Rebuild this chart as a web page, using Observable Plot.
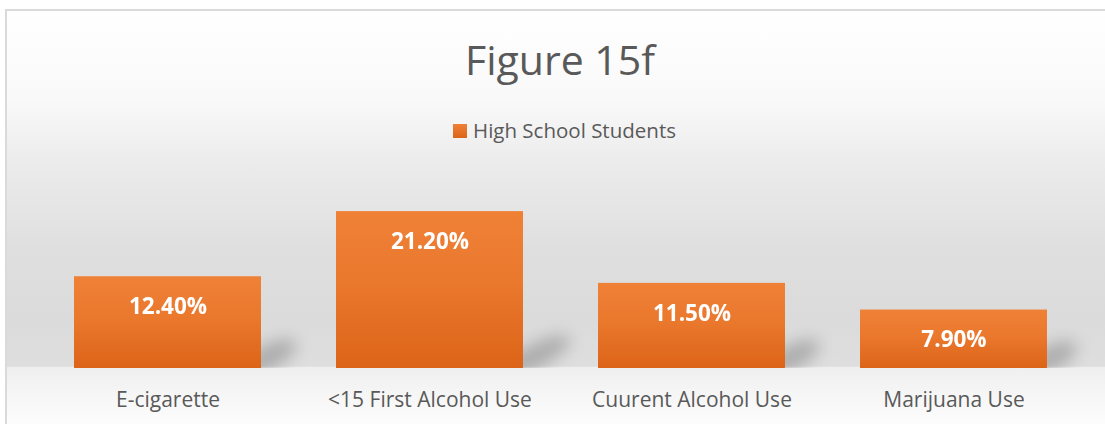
<!DOCTYPE html>
<html>
<head>
<meta charset="utf-8">
<script src="https://cdn.jsdelivr.net/npm/d3@7"></script>
<script src="https://cdn.jsdelivr.net/npm/@observablehq/plot@0.6"></script>
<style>
html, body { margin: 0; padding: 0; width: 1105px; height: 424px; overflow: hidden; background: #ffffff; font-family: "Open Sans", sans-serif; }
#frame {
  position: absolute; left: 5px; top: 9px; width: 1110px; height: 420px;
  box-sizing: border-box; border: 2px solid #dadada; border-right: none; border-bottom: none;
  background: linear-gradient(to bottom,
    #ffffff 0%, #f9f9f9 21.4%, #ececec 35.7%, #dfdfdf 57.1%, #dbdbdb 73.8%, #dedede 85.0%,
    #efefef 85.24%, #f6f6f6 92%, #fefefe 100%);
}
#title {
  position: absolute; left: 0; top: 39px; width: 1120px; text-align: center;
  font-size: 41px; line-height: 41px; color: #595959; white-space: nowrap;
}
#legend {
  position: absolute; left: 0; top: 120px; width: 1129px; display: flex; justify-content: center; align-items: center;
  font-size: 20.5px; line-height: 20px; height: 20px; color: #595959; white-space: nowrap;
}
#legend .sw { width: 14px; height: 14px; margin-right: 6px; background: linear-gradient(to bottom, #ef8137, #dc6418); position: relative; top: 1px; }
#chart { position: absolute; left: 0; top: 150px; }
</style>
</head>
<body>
<div id="frame"></div>
<div id="title"></div>
<div id="legend"></div>
<div id="chart"></div>
<script>
// ---- data ----
const titleText = "Figure 15f";
const seriesName = "High School Students";
const categories = ["E-cigarette", "<15 First Alcohol Use", "Cuurent Alcohol Use", "Marijuana Use"];
const values = [12.4, 21.2, 11.5, 7.9];
const valueLabels = ["12.40%", "21.20%", "11.50%", "7.90%"];

const data = categories.map((c, i) => ({category: c, value: values[i], label: valueLabels[i]}));

document.getElementById("title").textContent = titleText;
const legend = document.getElementById("legend");
const sw = document.createElement("span"); sw.className = "sw"; legend.appendChild(sw);
const lt = document.createElement("span"); lt.textContent = seriesName; legend.appendChild(lt);

const W = 1105, H = 274, MT = 33, MB = 56;

const chart = Plot.plot({
  width: W,
  height: H,
  marginTop: MT,
  marginBottom: MB,
  marginLeft: 35,
  marginRight: 20,
  style: {background: "transparent", overflow: "visible", fontFamily: "Open Sans", color: "#595959"},
  x: {domain: categories, paddingInner: 0.288, paddingOuter: 0.144, label: null},
  y: {domain: [0, 25], axis: null},
  marks: [
    Plot.barY(data, {x: "category", y: "value", fill: "url(#barGrad)"}),
    Plot.text(data, {x: "category", y: "value", text: "label", dy: 30, fill: "white", fontWeight: "bold", fontSize: 22.5}),
    Plot.axisX({tickSize: 0, tickPadding: 23.5, fontSize: 21, fill: "#595959", label: null})
  ]
});

const svg = d3.select(chart);
const defs = svg.insert("defs", ":first-child");
const grad = defs.append("linearGradient").attr("id", "barGrad")
  .attr("x1", 0).attr("y1", 0).attr("x2", 0).attr("y2", 1);
grad.append("stop").attr("offset", 0).attr("stop-color", "#ef8137");
grad.append("stop").attr("offset", 0.45).attr("stop-color", "#ea782d");
grad.append("stop").attr("offset", 1).attr("stop-color", "#dc6418");
const filt = defs.append("filter").attr("id", "shBlur")
  .attr("filterUnits", "userSpaceOnUse").attr("x", 0).attr("y", 0).attr("width", W).attr("height", H);
filt.append("feGaussianBlur").attr("stdDeviation", 8);
defs.append("clipPath").attr("id", "shClip")
  .append("rect").attr("x", 0).attr("y", 0).attr("width", W).attr("height", H - MB);

// shadow layer derived from the rendered bars (positions come from Plot's scales)
const barsNode = chart.querySelector('g[aria-label="bar"]');
const shadowG = d3.select(chart).insert("g", () => barsNode).attr("clip-path", "url(#shClip)");
const shadowInner = shadowG.append("g").attr("filter", "url(#shBlur)");
d3.select(barsNode).selectAll("rect").each(function() {
  const r = d3.select(this);
  const x = +r.attr("x"), y = +r.attr("y"), w = +r.attr("width"), h = +r.attr("height");
  const right = x + w, base = y + h;
  const L = 22 + 0.3 * h;
  const cx = right + 0.15 * L, cy = base - 11;
  shadowInner.append("ellipse")
    .attr("cx", cx).attr("cy", cy).attr("rx", L / 2 + 6).attr("ry", 12)
    .attr("transform", `rotate(-27 ${cx} ${cy})`)
    .attr("fill", "#000").attr("fill-opacity", 0.22);
});

document.getElementById("chart").appendChild(chart);
</script>
</body>
</html>
